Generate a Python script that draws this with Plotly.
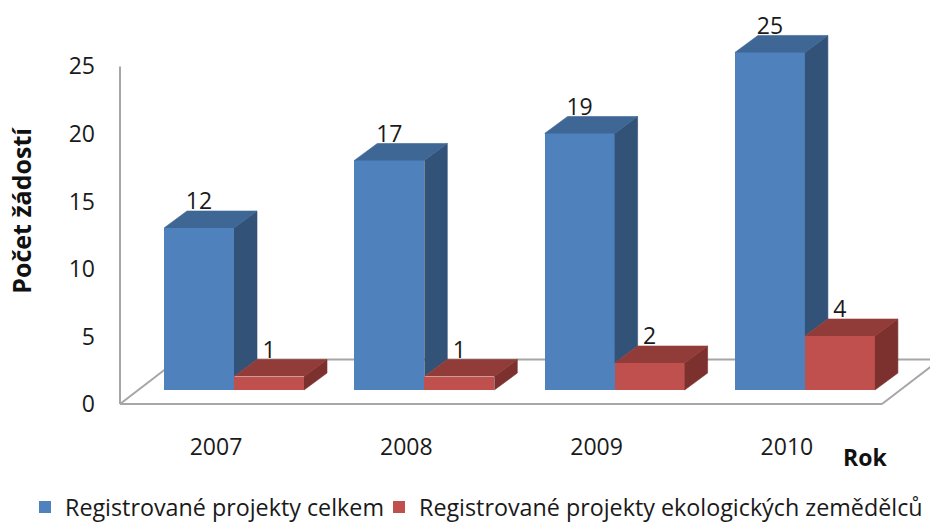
import plotly.graph_objects as go

categories = ["2007", "2008", "2009", "2010"]
total_projects = [12, 17, 19, 25]
eco_projects = [1, 1, 2, 4]
y_ticks = [0, 5, 10, 15, 20, 25]
name_total = "Registrované projekty celkem"
name_eco = "Registrované projekty ekologických zemědělců"

FONT = "Open Sans"
TXT = "#1a1a1a"
W, H = 930, 524
L, R, T, B = 120, 0, 0, 119.5
PW, PH = W - L - R, H - T - B
XU, YU = 190.3, 13.52
X0 = (L - 234) / XU
X1 = X0 + PW / XU
BAR_W = 70 / XU
BASE = 14 / YU
DX, DY = 23 / XU, 17 / YU
LABEL_UP = 24.5 / YU

BLUE = ("#4F81BD", "#3F6796", "#335278")
RED = ("#C0504D", "#923C39", "#7C312F")

xs = list(range(len(categories)))
fig = go.Figure()
fig.add_bar(x=[x - BAR_W / 2 for x in xs], y=total_projects, base=BASE, width=BAR_W,
            marker=dict(color=BLUE[0], line_width=0), name=name_total, cliponaxis=False,
            legend="legend")
fig.add_bar(x=[x + BAR_W / 2 for x in xs], y=eco_projects, base=BASE, width=BAR_W,
            marker=dict(color=RED[0], line_width=0), name=name_eco, cliponaxis=False,
            legend="legend2")


def face(xp, yp, color):
    fig.add_scatter(x=xp, y=yp, mode="lines", fill="toself", fillcolor=color,
                    line=dict(width=0.6, color=color), hoverinfo="skip",
                    showlegend=False, cliponaxis=False)


for x, a, b in zip(xs, total_projects, eco_projects):
    # blue box: side visible only above the red box, then top
    xl, xm, xr = x - BAR_W, x, x + BAR_W
    face([xm, xm + DX, xm + DX, xm], [BASE + b, BASE + b + DY, BASE + a + DY, BASE + a], BLUE[2])
    face([xl, xl + DX, xm + DX, xm], [BASE + a, BASE + a + DY, BASE + a + DY, BASE + a], BLUE[1])
    # red box
    face([xr, xr + DX, xr + DX, xr], [BASE, BASE + DY, BASE + b + DY, BASE + b], RED[2])
    face([xm, xm + DX, xr + DX, xr], [BASE + b, BASE + b + DY, BASE + b + DY, BASE + b], RED[1])

for offset, vals in ((-BAR_W / 2, total_projects), (BAR_W / 2, eco_projects)):
    fig.add_scatter(x=[x + offset for x in xs], y=[BASE + v + LABEL_UP for v in vals],
                    text=[str(v) for v in vals], mode="text", textposition="middle center",
                    textfont=dict(size=23, color=TXT, family=FONT), showlegend=False,
                    hoverinfo="skip", cliponaxis=False)

GRID = "#a6a6a6"
FX, FY = 58 / PW, 44.5 / PH
FLOOR_R = 762 / PW
WALL_TOP = 338 / PH


def line(x0, y0, x1, y1):
    return dict(type="line", xref="paper", yref="paper", x0=x0, y0=y0, x1=x1, y1=y1,
                line=dict(color=GRID, width=2), layer="below")


def legend_at(px):
    return dict(orientation="h", x=(px - L) / PW, y=(PH - 508) / PH, xref="paper", yref="paper",
                xanchor="left", yanchor="middle", font=dict(size=23.3), bgcolor="rgba(0,0,0,0)",
                traceorder="normal")


fig.update_layout(
    width=W, height=H, margin=dict(l=L, r=R, t=T, b=B, autoexpand=False),
    paper_bgcolor="white", plot_bgcolor="white", barmode="overlay", bargap=0,
    font=dict(family=FONT, color=TXT),
    xaxis=dict(range=[X0, X1], tickmode="array", tickvals=[x - 18 / XU for x in xs],
               ticktext=categories, tickfont=dict(size=23), showgrid=False, zeroline=False,
               showline=False, ticks="", ticklabelstandoff=27),
    yaxis=dict(range=[0, PH / YU], tickmode="array", tickvals=y_ticks, tickfont=dict(size=23),
               showgrid=False, zeroline=False, showline=False, ticks="", ticklabelstandoff=24),
    legend=legend_at(25),
    legend2=legend_at(379),
    shapes=[
        line(0, 0, 0, WALL_TOP),
        line(0, 0, FLOOR_R, 0),
        line(0, 0, FX, FY),
        line(FLOOR_R, 0, FLOOR_R + FX, FY),
        line(FX, FY, FLOOR_R + FX, FY),
    ],
    annotations=[
        dict(text="<b>Počet žádostí</b>", xref="paper", yref="paper",
             x=(21 - L) / PW, y=(PH - 211) / PH, textangle=-90, showarrow=False,
             font=dict(size=25, color="#111111"), xanchor="center", yanchor="middle"),
        dict(text="<b>Rok</b>", xref="paper", yref="paper",
             x=(865 - L) / PW, y=(PH - 458) / PH, showarrow=False,
             font=dict(size=23, color="#111111"), xanchor="center", yanchor="middle"),
    ],
)
fig.write_html("out.html", config={"displayModeBar": False},
               post_script="document.body.style.margin='0';")
